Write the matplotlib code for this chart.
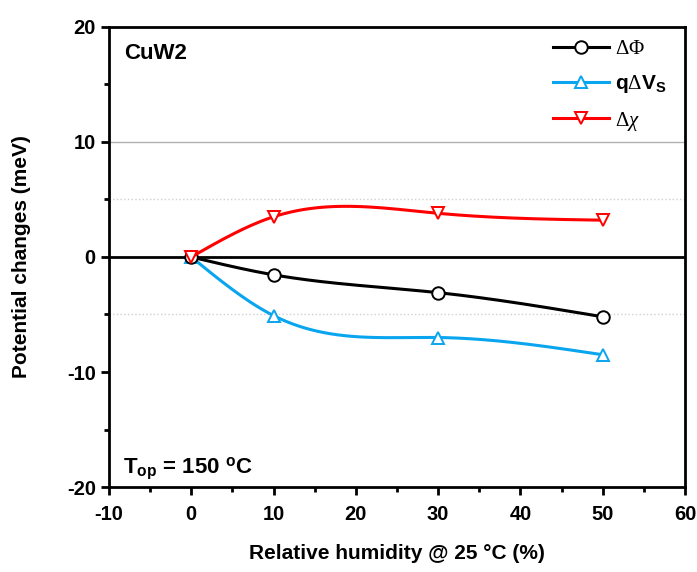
import numpy as np
import matplotlib.pyplot as plt
import matplotlib as mpl

mpl.rcParams['font.family'] = ['Liberation Sans', 'DejaVu Sans']
mpl.rcParams['axes.unicode_minus'] = False
mpl.rcParams['mathtext.fontset'] = 'custom'
mpl.rcParams['mathtext.rm'] = 'Liberation Serif'
mpl.rcParams['mathtext.it'] = 'Liberation Serif:italic'
mpl.rcParams['mathtext.bf'] = 'Liberation Sans:bold'

# 数据
rh = [0, 10, 30, 50]
d_phi = [0, -1.55, -3.1, -5.2]
q_dvs = [0, -5.1, -7.0, -8.5]
d_chi = [0, 3.5, 3.8, 3.2]

names = [r'$\Delta\Phi$', r'$\mathbf{q}\Delta\mathbf{V_S}$', r'$\Delta\chi$']
colors = ['black', '#0aa5ef', '#ff0000']
markers = ['o', '^', 'v']
xticks = [-10, 0, 10, 20, 30, 40, 50, 60]
yticks = [-20, -10, 0, 10, 20]


def natural_spline(x, y, n=200):
    # 自然三次样条，只用于画平滑连线
    x = np.asarray(x, float)
    y = np.asarray(y, float)
    k = len(x)
    h = np.diff(x)
    A = np.zeros((k, k))
    b = np.zeros(k)
    A[0, 0] = A[-1, -1] = 1
    for i in range(1, k - 1):
        A[i, i - 1] = h[i - 1]
        A[i, i] = 2 * (h[i - 1] + h[i])
        A[i, i + 1] = h[i]
        b[i] = 6 * ((y[i + 1] - y[i]) / h[i] - (y[i] - y[i - 1]) / h[i - 1])
    M = np.linalg.solve(A, b)
    xs = np.linspace(x[0], x[-1], n)
    idx = np.clip(np.searchsorted(x, xs) - 1, 0, k - 2)
    x0, x1 = x[idx], x[idx + 1]
    hh = x1 - x0
    t0, t1 = x1 - xs, xs - x0
    ys = (M[idx] * t0**3 + M[idx + 1] * t1**3) / (6 * hh) \
        + (y[idx] / hh - M[idx] * hh / 6) * t0 \
        + (y[idx + 1] / hh - M[idx + 1] * hh / 6) * t1
    return xs, ys


fig = plt.figure(figsize=(6.97, 5.72), dpi=100)
ax = fig.add_axes([0.1564, 0.1486, 0.8264, 0.8042])

ax.axhline(10, color='#b0b0b0', lw=1, zorder=1)
ax.axhline(5, color='#d0d0d0', lw=1, ls=':', zorder=1)
ax.axhline(-5, color='#d0d0d0', lw=1, ls=':', zorder=1)
ax.axhline(0, color='black', lw=2, zorder=2)

series = [d_phi, q_dvs, d_chi]
for ys, nm, c, m, z in zip(series, names, colors, markers, [4, 3, 5]):
    xs, sm = natural_spline(rh, ys)
    ax.plot(xs, sm, color=c, lw=2.2, zorder=z)
    ax.plot(rh, ys, ls='none', marker=m, ms=9, mfc='white', mec=c, mew=1.4, zorder=z)
    ax.plot([], [], color=c, lw=2.2, marker=m, ms=9, mfc='white', mec=c, mew=1.4, label=nm)

ax.set_xlim(-10, 60)
ax.set_ylim(-20, 20)
ax.set_xticks(xticks)
ax.set_yticks(yticks)
ax.set_xticks([-5, 5, 15, 25, 35, 45, 55], minor=True)
ax.set_yticks([-15, -5, 5, 15], minor=True)
ax.tick_params(which='major', direction='out', length=6, width=2, labelsize=14.5)
ax.tick_params(axis='x', which='major', pad=7)
ax.tick_params(which='minor', direction='out', length=3.5, width=2)
for lab in ax.get_xticklabels() + ax.get_yticklabels():
    lab.set_fontweight('bold')
for s in ax.spines.values():
    s.set_linewidth(2)

ax.set_xlabel('Relative humidity @ 25 \u00b0C (%)', fontsize=15, fontweight='bold', labelpad=14)
ax.set_ylabel('Potential changes (meV)', fontsize=15, fontweight='bold', labelpad=26)

ax.text(0.027, 0.93, 'CuW2', transform=ax.transAxes, fontsize=16, fontweight='bold')
ax.text(0.024, 0.03, r'T$_{\mathbf{op}}$ = 150 $^{\mathbf{o}}$C', transform=ax.transAxes,
        fontsize=16, fontweight='bold')

leg = ax.legend(loc='upper right', bbox_to_anchor=(0.99, 1.0), frameon=False, fontsize=15,
                handlelength=2.7, borderaxespad=0.2, labelspacing=0.7, handletextpad=0.3)

fig.savefig('out.png', dpi=100)
